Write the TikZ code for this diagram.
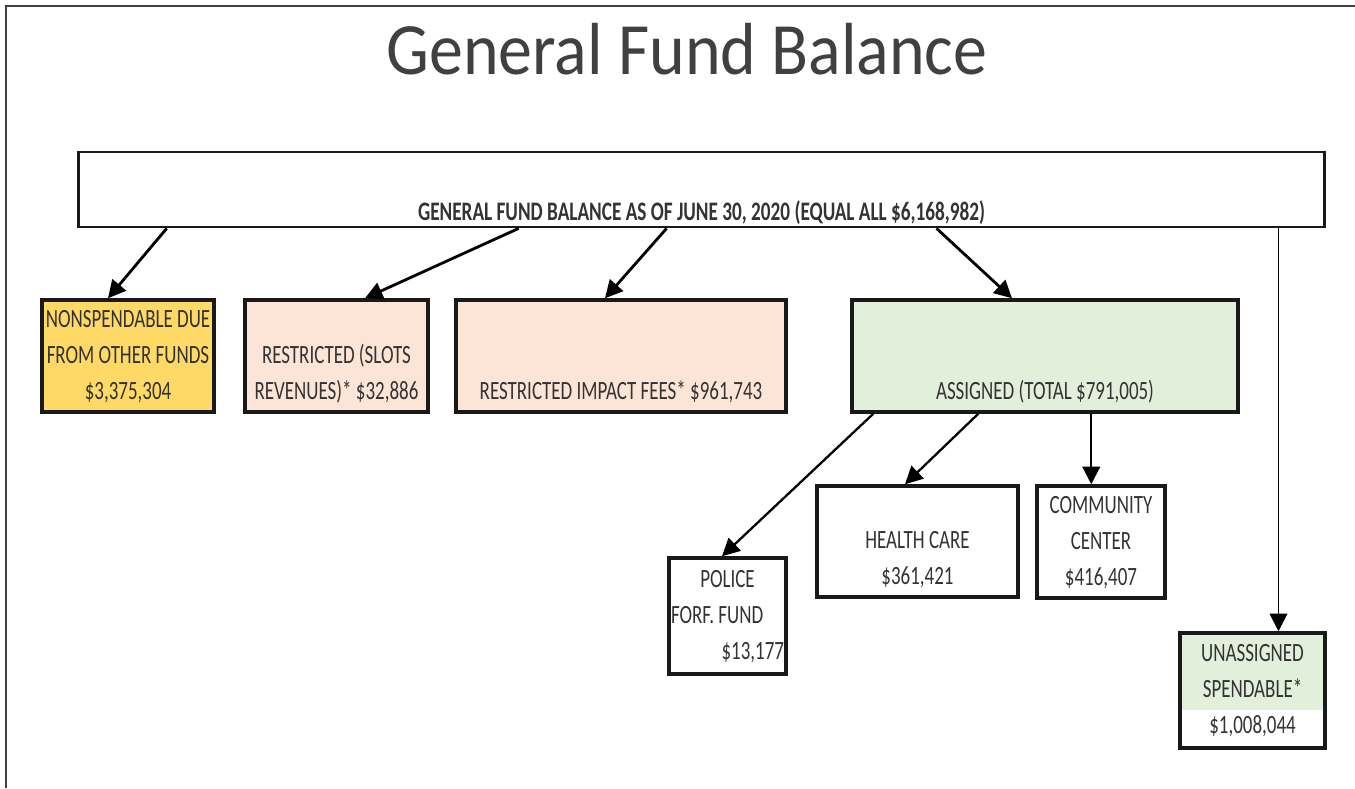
\documentclass[tikz,border=0pt]{standalone}
\usepackage{fontspec}
\usepackage{xcolor,tikz}
\usetikzlibrary{arrows.meta}
\definecolor{gold}{HTML}{FFD966}
\definecolor{blush}{HTML}{FCE4D6}
\definecolor{mint}{HTML}{E2EFDA}
\definecolor{ink}{HTML}{333333}
\definecolor{slate}{HTML}{404040}
\newfontfamily\titlefont[FakeStretch=0.92]{Carlito}
\newfontfamily\cellfont[FakeStretch=0.72]{Carlito}
\tikzset{
  cell/.style={draw=black!90,line width=2pt,fill=white,inner sep=0pt,align=center,text=ink,
    font=\cellfont\fontsize{15}{20.5}\selectfont},
  arr/.style={line width=1.6pt,-{Triangle[length=10pt,width=10pt]}}
}

\begin{document}
\begin{tikzpicture}[x=0.02cm,y=-0.02cm]
\useasboundingbox (0,0) rectangle (1355,788);
\draw[line width=1.2pt,slate] (6,788) -- (6,6) -- (1355,6);
\node[font=\titlefont\fontsize{42}{50}\selectfont,text=slate,anchor=base] (title) at (687,74) {General Fund Balance};

\node[cell,line width=1.6pt,minimum width=24.94cm,minimum height=1.5cm,font=\cellfont\bfseries\fontsize{15.2}{20.5}\selectfont] (fund) at (701.5,189.5)
  {\rule{0pt}{38pt}GENERAL FUND BALANCE AS OF JUNE 30, 2020 (EQUAL ALL \$6,168,982)};

\node[cell,fill=gold,minimum width=3.44cm,minimum height=2.24cm] (nonsp) at (128,356) {\strut NONSPENDABLE DUE\\FROM OTHER FUNDS\\\$3,375,304\strut};
\node[cell,fill=blush,minimum width=3.66cm,minimum height=2.24cm] (slots) at (336.5,356) {\strut\\RESTRICTED (SLOTS\\REVENUES)* \$32,886\strut};
\node[cell,fill=blush,minimum width=6.6cm,minimum height=2.24cm] (impact) at (621,356) {\strut\\\strut\\RESTRICTED IMPACT FEES* \$961,743\strut};
\node[cell,fill=mint,minimum width=7.72cm,minimum height=2.24cm] (assigned) at (1045,356) {\strut\\\strut\\ASSIGNED (TOTAL \$791,005)\strut};

\node[cell,minimum width=2.34cm,minimum height=2.32cm] (police) at (727.5,616)
  {\strut POLICE\\\makebox[2.26cm][l]{FORF. FUND}\\\makebox[2.26cm][r]{\$13,177}\strut};
\node[cell,minimum width=4.02cm,minimum height=2.22cm] (health) at (917.5,541.5) {\strut\\HEALTH CARE\\\$361,421\strut};
\node[cell,minimum width=2.56cm,minimum height=2.24cm] (center) at (1101,542) {\strut COMMUNITY\\CENTER\\\$416,407\strut};
\node[cell,minimum width=2.9cm,minimum height=2.3cm,path picture={
    \fill[mint] (path picture bounding box.north west) rectangle ([yshift=0.76cm]path picture bounding box.south east);}]
  (unassigned) at (1252.5,690.5) {\strut UNASSIGNED\\SPENDABLE*\\\$1,008,044\strut};

\draw[arr] ([xshift=1.8cm]fund.south west) -- ([xshift=-0.4cm]nonsp.north);
\draw[arr] ([xshift=8.84cm]fund.south west) -- ([xshift=0.57cm]slots.north);
\draw[arr] ([xshift=11.8cm]fund.south west) -- ([xshift=-0.32cm]impact.north);
\draw[arr] ([xshift=17.2cm]fund.south west) -- ([xshift=-0.66cm]assigned.north);
\draw[arr,line width=1pt] ([xshift=24.04cm]fund.south west) coordinate (drop) -- (drop |- unassigned.north);

\draw[arr,line width=1.3pt] ([xshift=0.46cm]assigned.south west) -- ([xshift=-0.11cm]police.north);
\draw[arr,line width=1.3pt] ([xshift=2.56cm]assigned.south west) -- ([xshift=-0.25cm]health.north);
\draw[arr,line width=1.2pt] ([xshift=4.82cm]assigned.south west) coordinate (tap) -- (tap |- center.north);
\end{tikzpicture}
\end{document}
